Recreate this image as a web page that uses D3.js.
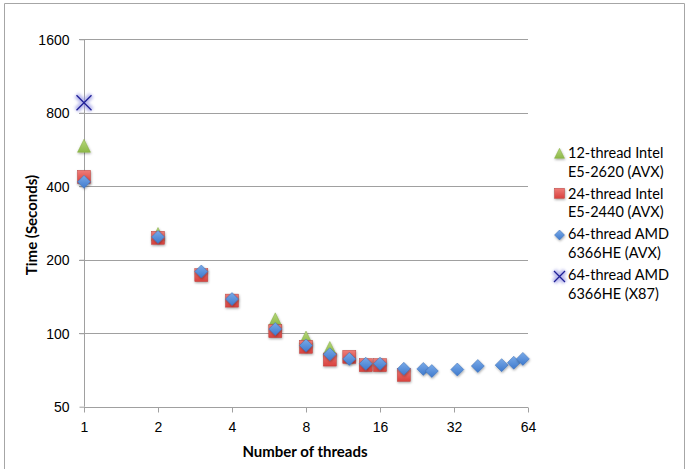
<!DOCTYPE html>
<html><head><meta charset="utf-8">
<script src="https://cdn.jsdelivr.net/npm/d3@7"></script>
<style>
html,body{margin:0;padding:0;background:#fff;}
svg{display:block;font-family:Lato,"Liberation Sans",sans-serif;}
</style></head>
<body>
<svg id="c" width="697" height="469"></svg>
<script>
// ---- data ----
const xTicks = [1, 2, 4, 8, 16, 32, 64];
const yTicks = [50, 100, 200, 400, 800, 1600];

const intel12Threads = [1, 2, 6, 8, 10];
const intel12Times   = [586, 255, 114, 96, 87];

const intel24Threads = [1, 2, 3, 4, 6, 8, 10, 12, 14, 16, 20];
const intel24Times   = [437, 246, 173, 136, 102, 88, 78, 80, 74, 74, 67.5];

const amdAvxThreads = [1, 2, 3, 4, 6, 8, 10, 12, 14, 16, 20, 24, 26, 33, 40, 50, 56, 61];
const amdAvxTimes   = [417, 248, 179, 138, 104, 89, 82, 78.5, 75, 75, 71.5, 71.4, 70, 71, 73.4, 74, 75.7, 78.5];

const amdX87Threads = [1];
const amdX87Times   = [880];

const seriesNames = [
  ["12-thread Intel", "E5-2620 (AVX)"],
  ["24-thread Intel", "E5-2440 (AVX)"],
  ["64-thread AMD", "6366HE (AVX)"],
  ["64-thread AMD", "6366HE (X87)"]
];
const seriesTypes = ["triangle", "square", "diamond", "x"];

// ---- layout ----
const svg = d3.select("#c");
const x = d3.scaleLog().base(2).domain([1, 64]).range([84, 528]);
const y = d3.scaleLog().base(2).domain([50, 1600]).range([406.7, 39.3]);

const defs = svg.append("defs");
const f = defs.append("filter").attr("id", "sh").attr("x", "-50%").attr("y", "-50%").attr("width", "200%").attr("height", "200%");
f.append("feDropShadow").attr("dx", 0.5).attr("dy", 1.2).attr("stdDeviation", 0.9).attr("flood-color", "#000").attr("flood-opacity", 0.35);
const g2 = defs.append("filter").attr("id", "glow").attr("x", "-50%").attr("y", "-50%").attr("width", "200%").attr("height", "200%");
g2.append("feGaussianBlur").attr("stdDeviation", 1.8);

function grad(id, c1, c2) {
  const lg = defs.append("linearGradient").attr("id", id).attr("x1", 0).attr("y1", 0).attr("x2", 0).attr("y2", 1);
  lg.append("stop").attr("offset", "0%").attr("stop-color", c1);
  lg.append("stop").attr("offset", "100%").attr("stop-color", c2);
}
grad("gTri", "#B5D77A", "#8DB848");
grad("gSq", "#EE7C78", "#D9413D");
grad("gDi", "#79AAE8", "#3F7ACD");

// outer border
svg.append("path").attr("d", "M4.5,480 V3.5 H684.5 V480").attr("fill", "none").attr("stroke", "#A6A6A6").attr("stroke-width", 1);

// gridlines
svg.append("g").selectAll("line").data(yTicks.slice(1)).join("line")
  .attr("x1", 79).attr("x2", x(64)).attr("y1", d => Math.round(y(d)) + 0.5).attr("y2", d => Math.round(y(d)) + 0.5)
  .attr("stroke", "#A0A0A0").attr("stroke-width", 1);

// y axis
const yAxis = d3.axisLeft(y).tickValues(yTicks).tickFormat(d3.format("d")).tickSize(5).tickPadding(10);
const ya = svg.append("g").attr("transform", "translate(84.5,0)").call(yAxis);
ya.select(".domain").attr("stroke", "#A0A0A0").attr("d", `M0,${y(1600)}V${y(50)}`);
ya.selectAll(".tick line").attr("stroke", "#A0A0A0");
ya.selectAll(".tick text").attr("font-size", 14).attr("fill", "#000").attr("dy", "0.36em");

// x axis
const xAxis = d3.axisBottom(x).tickValues(xTicks).tickFormat(d3.format("d")).tickSize(5).tickPadding(10);
const xa = svg.append("g").attr("transform", `translate(0,${Math.round(y(50)) + 0.5})`).call(xAxis);
xa.select(".domain").attr("stroke", "#A0A0A0").attr("d", `M${x(1)},0H${x(64)}`);
xa.selectAll(".tick line").attr("stroke", "#A0A0A0");
xa.selectAll(".tick text").attr("font-size", 14).attr("fill", "#000");

// axis titles
svg.append("text").attr("x", 305).attr("y", 457).attr("text-anchor", "middle")
  .attr("font-size", 15).attr("font-weight", "bold").text("Number of threads");
svg.append("text").attr("transform", "translate(37,225) rotate(-90)").attr("text-anchor", "middle")
  .attr("font-size", 15).attr("font-weight", "bold").text("Time (Seconds)");

// markers
function drawMarker(sel, type, s) {
  const h = s / 2;
  if (type === "triangle") {
    sel.append("path").attr("d", `M0,${-h} L${h},${h} L${-h},${h} Z`)
      .attr("fill", "url(#gTri)").attr("stroke", "#86AC45").attr("stroke-width", 0.5).attr("filter", "url(#sh)");
  } else if (type === "square") {
    sel.append("rect").attr("x", -h).attr("y", -h).attr("width", s).attr("height", s)
      .attr("fill", "url(#gSq)").attr("stroke", "#B8403C").attr("stroke-width", 0.5).attr("filter", "url(#sh)");
  } else if (type === "diamond") {
    sel.append("path").attr("d", `M0,${-h} L${h},0 L0,${h} L${-h},0 Z`)
      .attr("fill", "url(#gDi)").attr("stroke", "#3A6DB3").attr("stroke-width", 0.5).attr("filter", "url(#sh)");
  } else {
    const d = `M${-h},${-h} L${h},${h} M${h},${-h} L${-h},${h}`;
    sel.append("path").attr("d", d).attr("stroke", "#8C8CE0").attr("stroke-width", 6).attr("opacity", 0.6).attr("filter", "url(#glow)");
    sel.append("path").attr("d", d).attr("stroke", "#1F1F96").attr("stroke-width", 1.3);
  }
}

const allSeries = [
  [intel12Threads, intel12Times],
  [intel24Threads, intel24Times],
  [amdAvxThreads, amdAvxTimes],
  [amdX87Threads, amdX87Times]
];
const sizes = [13, 13, 13, 15];
allSeries.forEach(([xs, ys], i) => {
  const pts = xs.map((t, j) => ({t, v: ys[j]}));
  svg.append("g").selectAll("g").data(pts).join("g")
    .attr("transform", d => `translate(${x(d.t)},${y(d.v)})`)
    .each(function () { drawMarker(d3.select(this), seriesTypes[i], sizes[i]); });
});

// legend
const legY = [158.3, 198.5, 239.3, 280];
const legMarkY = [153.3, 193.3, 235, 276.5];
seriesNames.forEach((lines, i) => {
  const g = svg.append("g").attr("transform", `translate(559.5,${legMarkY[i]})`);
  drawMarker(g, seriesTypes[i], i === 3 ? 11 : 10);
  const t = svg.append("text").attr("x", 568).attr("y", legY[i]).attr("font-size", 14.5).attr("fill", "#000");
  t.append("tspan").attr("x", 568).text(lines[0]);
  t.append("tspan").attr("x", 568).attr("dy", 18.6).text(lines[1]);
});
</script>
</body></html>
